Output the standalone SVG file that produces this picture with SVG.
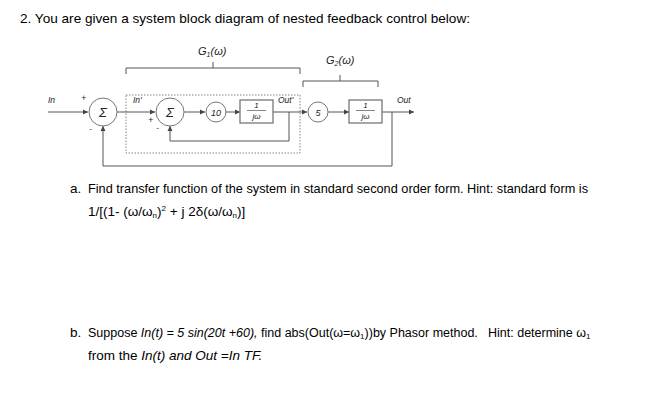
<svg xmlns="http://www.w3.org/2000/svg" width="657" height="402" viewBox="0 0 657 402">
<defs>
<marker id="ar" markerWidth="6" markerHeight="6" refX="5" refY="3" orient="auto" markerUnits="userSpaceOnUse"><path d="M0,0.5 L5,3 L0,5.5 z" fill="#444"/></marker>
<style>
.t{font-family:"Liberation Sans",Arial,sans-serif;font-size:13.5px;fill:#000}
.d{font-family:"Liberation Sans",Arial,sans-serif;font-style:italic;fill:#222}
.c{fill:#fff;stroke:#777;stroke-width:1}
.b{fill:#fff;stroke:#777;stroke-width:1.3}
.w{fill:none;stroke:#555;stroke-width:1}
</style>
</defs>
<rect width="657" height="402" fill="#fff"/>
<text class="t" x="20" y="23" textLength="450" lengthAdjust="spacingAndGlyphs">2.  You are given a system block diagram of nested feedback control below:</text>

<g id="connectors">
<rect x="126" y="95" width="174" height="58" fill="none" stroke="#666" stroke-width="0.8" stroke-dasharray="1.5,1.5"/>
<path class="w" d="M48,112 H88" marker-end="url(#ar)"/>
<path class="w" d="M117,112 H155" marker-end="url(#ar)"/>
<path class="w" d="M184,112 H205" marker-end="url(#ar)"/>
<path class="w" d="M226,112 H240" marker-end="url(#ar)"/>
<path class="w" d="M273,112 H307" marker-end="url(#ar)"/>
<path class="w" d="M328,112 H349" marker-end="url(#ar)"/>
<path class="w" d="M382,112 H414" marker-end="url(#ar)"/>
<path class="w" d="M289,112 V141 H170 V126" marker-end="url(#ar)"/>
<path class="w" d="M392,112 V166 H103 V126" marker-end="url(#ar)"/>
<path class="w" d="M126,74 V68 H300 V74 M213,68 V62 M303,87 V81 H378 V87 M340,81 V75"/>
</g>
<g id="sum1"><circle class="c" cx="103" cy="112" r="14"/><text class="d" x="103" y="117" font-size="13" font-style="normal" text-anchor="middle">Σ</text></g>
<g id="sum2"><circle class="c" cx="170" cy="112" r="14"/><text class="d" x="170" y="117" font-size="13" font-style="normal" text-anchor="middle">Σ</text></g>
<g id="gain10"><circle class="c" cx="216" cy="112" r="10"/><text class="d" x="216" y="115.5" font-size="9" font-style="normal" text-anchor="middle">10</text></g>
<g id="int1"><rect class="b" x="240" y="100" width="33" height="23"/><text class="d" x="256.5" y="108" font-size="8" font-style="normal" text-anchor="middle">1</text><line x1="247" y1="110.5" x2="266" y2="110.5" stroke="#333" stroke-width="0.6"/><text class="d" x="256.5" y="119" font-size="8" text-anchor="middle">jω</text></g>
<g id="gain5"><circle class="c" cx="318" cy="112" r="10"/><text class="d" x="318" y="115.5" font-size="9" font-style="normal" text-anchor="middle">5</text></g>
<g id="int2"><rect class="b" x="349" y="100" width="33" height="23"/><text class="d" x="365.5" y="108" font-size="8" font-style="normal" text-anchor="middle">1</text><line x1="356" y1="110.5" x2="375" y2="110.5" stroke="#333" stroke-width="0.6"/><text class="d" x="365.5" y="119" font-size="8" text-anchor="middle">jω</text></g>
<g id="labels">
<text class="d" x="48" y="103" font-size="8.5">In</text>
<text class="d" x="397" y="103" font-size="8.5">Out</text>
<text class="d" x="133" y="103" font-size="8.5">In'</text>
<text class="d" x="278" y="103" font-size="8.5">Out'</text>
<text class="d" x="81" y="101" font-size="9" font-style="normal">+</text>
<text class="d" x="89" y="132" font-size="9" font-style="normal">-</text>
<text class="d" x="148" y="123" font-size="9" font-style="normal">+</text>
<text class="d" x="156" y="131" font-size="9" font-style="normal">-</text>
<text class="d" x="198" y="55" font-size="11">G<tspan font-size="7" dy="2">1</tspan><tspan dy="-2">(ω)</tspan></text>
<text class="d" x="326" y="64" font-size="11">G<tspan font-size="7" dy="2">2</tspan><tspan dy="-2">(ω)</tspan></text>
</g>
<text class="t" x="70" y="193">a.</text>
<text class="t" x="88" y="193" textLength="500" lengthAdjust="spacingAndGlyphs">Find transfer function of the system in standard second order form. Hint: standard form is</text>
<text class="t" x="88" y="216">1/[(1- (ω/ω<tspan font-size="8" dy="2">n</tspan><tspan dy="-2">)</tspan><tspan font-size="8" dy="-5">2</tspan><tspan dy="5"> + j 2δ(ω/ω</tspan><tspan font-size="8" dy="2">n</tspan><tspan dy="-2">)]</tspan></text>
<text class="t" x="70" y="337">b.</text>
<text class="t" x="88" y="337" style="font-size:12.5px">Suppose <tspan font-style="italic">In(t) = 5 sin(20t +60),</tspan> find abs(Out(ω=ω<tspan style="font-size:8px" dy="2">1</tspan><tspan dy="-2">))by Phasor method.</tspan></text>
<text class="t" x="488" y="337" style="font-size:12.5px">Hint: determine ω<tspan style="font-size:8px" dy="2">1</tspan></text>
<text class="t" x="88" y="360">from the <tspan font-style="italic">In(t) and Out =In TF.</tspan></text>
</svg>
